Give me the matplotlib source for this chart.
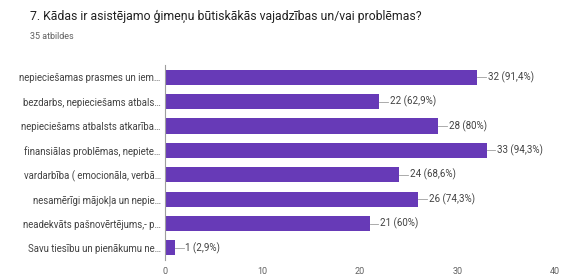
import matplotlib
matplotlib.use('Agg')
import matplotlib.pyplot as plt

# atbilzu varianti un skaits
labels = ['nepieciešamas prasmes un iem\u2026',
          'bezdarbs, nepieciešams atbals\u2026',
          'nepieciešams atbalsts atkarība\u2026',
          'finansiālas problēmas, nepiete\u2026',
          'vardarbība ( emocionāla, verbā\u2026',
          'nesamērīgi mājokļa un nepie\u2026',
          'neadekvāts pašnovērtējums,- p\u2026',
          'Savu tiesību un pienākumu ne\u2026']
counts = [32, 22, 28, 33, 24, 26, 21, 1]
pcts = ['91,4%', '62,9%', '80%', '94,3%', '68,6%', '74,3%', '60%', '2,9%']
xticks = [0, 10, 20, 30, 40]

plt.rcParams['font.family'] = ['Roboto', 'DejaVu Sans']
purple = '#673ab7'

fig = plt.figure(figsize=(5.66, 2.8), dpi=100)
ax = fig.add_axes([0.2915, 0.071, 0.689, 0.697])

ypos = list(range(len(counts)))
ax.barh(ypos, counts, height=0.62, color=purple)
for y, c, p in zip(ypos, counts, pcts):
    ax.plot([c, c + 0.9], [y, y], color='#9e9e9e', lw=0.6)
    ax.text(c + 1.1, y, '%d (%s)' % (c, p), va='center', ha='left',
            fontsize=7, color='#424242')

ax.set_ylim(len(counts) - 0.5, -0.5)
ax.set_xlim(0, 40)
ax.set_yticks(ypos)
ax.set_yticklabels(labels, fontsize=6.9, color='#424242')
ax.set_xticks(xticks)
ax.set_xticklabels([str(t) for t in xticks], fontsize=6.5, color='#616161')
ax.tick_params(axis='y', length=0, pad=3)
ax.tick_params(axis='x', length=0, pad=5)
for s in ['top', 'right', 'bottom']:
    ax.spines[s].set_visible(False)
ax.spines['left'].set_color('#9e9e9e')
ax.spines['left'].set_linewidth(0.8)

fig.text(0.053, 0.94, '7. Kādas ir asistējamo ģimeņu būtiskākās vajadzības un/vai problēmas?',
         fontsize=8.8, color='#212121', va='center')
fig.text(0.053, 0.868, '35 atbildes', fontsize=6.5, color='#616161', va='center')

plt.savefig('out.png', dpi=100)
